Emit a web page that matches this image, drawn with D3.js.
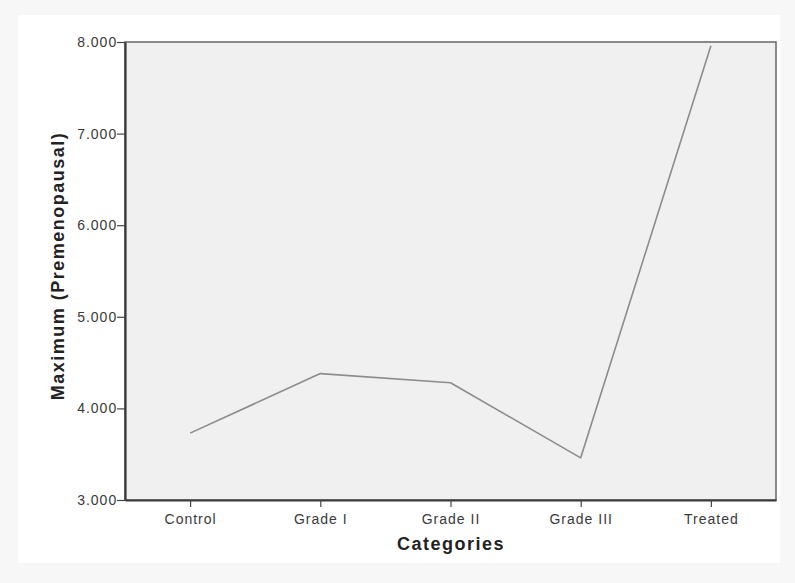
<!DOCTYPE html>
<html><head><meta charset="utf-8">
<script src="https://cdn.jsdelivr.net/npm/d3@7"></script>
<style>html,body{margin:0;padding:0;background:#f7f7f7;}svg{display:block;}</style>
</head><body>
<script>
const categories = ["Control", "Grade I", "Grade II", "Grade III", "Treated"];
const values = [3.73, 4.38, 4.28, 3.46, 7.96];
const yTicks = [3, 4, 5, 6, 7, 8];

const W = 795, H = 583;
const m = {left: 125, right: 19, top: 42, bottom: 83};
const FONT = "Liberation Sans, Arial, sans-serif";
const svg = d3.select("body").append("svg").attr("width", W).attr("height", H);
svg.append("rect").attr("x", 18).attr("y", 15).attr("width", 762).attr("height", 548).attr("fill", "#ffffff");

const x = d3.scalePoint().domain(categories).range([m.left, W - m.right]).padding(0.5);
const y = d3.scaleLinear().domain([3, 8]).range([H - m.bottom, m.top]);

svg.append("rect").attr("x", m.left).attr("y", m.top)
  .attr("width", W - m.right - m.left).attr("height", H - m.bottom - m.top)
  .attr("fill", "#f0f0f0").attr("stroke", "#666").attr("stroke-width", 1.5);

const ya = svg.append("g").attr("transform", `translate(${m.left},0)`)
  .call(d3.axisLeft(y).tickValues(yTicks).tickSizeInner(8).tickSizeOuter(0).tickPadding(4).tickFormat(d3.format(".3f")));
const xa = svg.append("g").attr("transform", `translate(0,${H - m.bottom})`)
  .call(d3.axisBottom(x).tickSizeInner(7).tickSizeOuter(0).tickPadding(7));
[ya, xa].forEach(g => {
  g.select(".domain").attr("stroke", "#3a3a3a").attr("stroke-width", 2.2);
  g.selectAll(".tick line").attr("stroke", "#444").attr("stroke-width", 1.2);
  g.selectAll(".tick text").attr("fill", "#3a3a3a").style("font-family", FONT)
    .style("font-size", "14px").style("letter-spacing", "1px");
});
ya.selectAll(".tick text").attr("dx", "0.3em");

const line = d3.line().x((d, i) => x(categories[i])).y(d => y(d));
svg.append("path").datum(values).attr("d", line).attr("fill", "none")
  .attr("stroke", "#8c8c8c").attr("stroke-width", 1.6).attr("stroke-linejoin", "round");

svg.append("text").attr("x", 451).attr("y", 550)
  .attr("text-anchor", "middle").style("font-family", FONT).style("letter-spacing", "1.5px")
  .style("font-size", "18px").style("font-weight", "bold").attr("fill", "#222").text("Categories");
svg.append("text").attr("transform", `translate(64,266) rotate(-90)`)
  .attr("text-anchor", "middle").style("font-family", FONT).style("letter-spacing", "1.5px")
  .style("font-size", "18px").style("font-weight", "bold").attr("fill", "#222").text("Maximum (Premenopausal)");
</script>
</body></html>
